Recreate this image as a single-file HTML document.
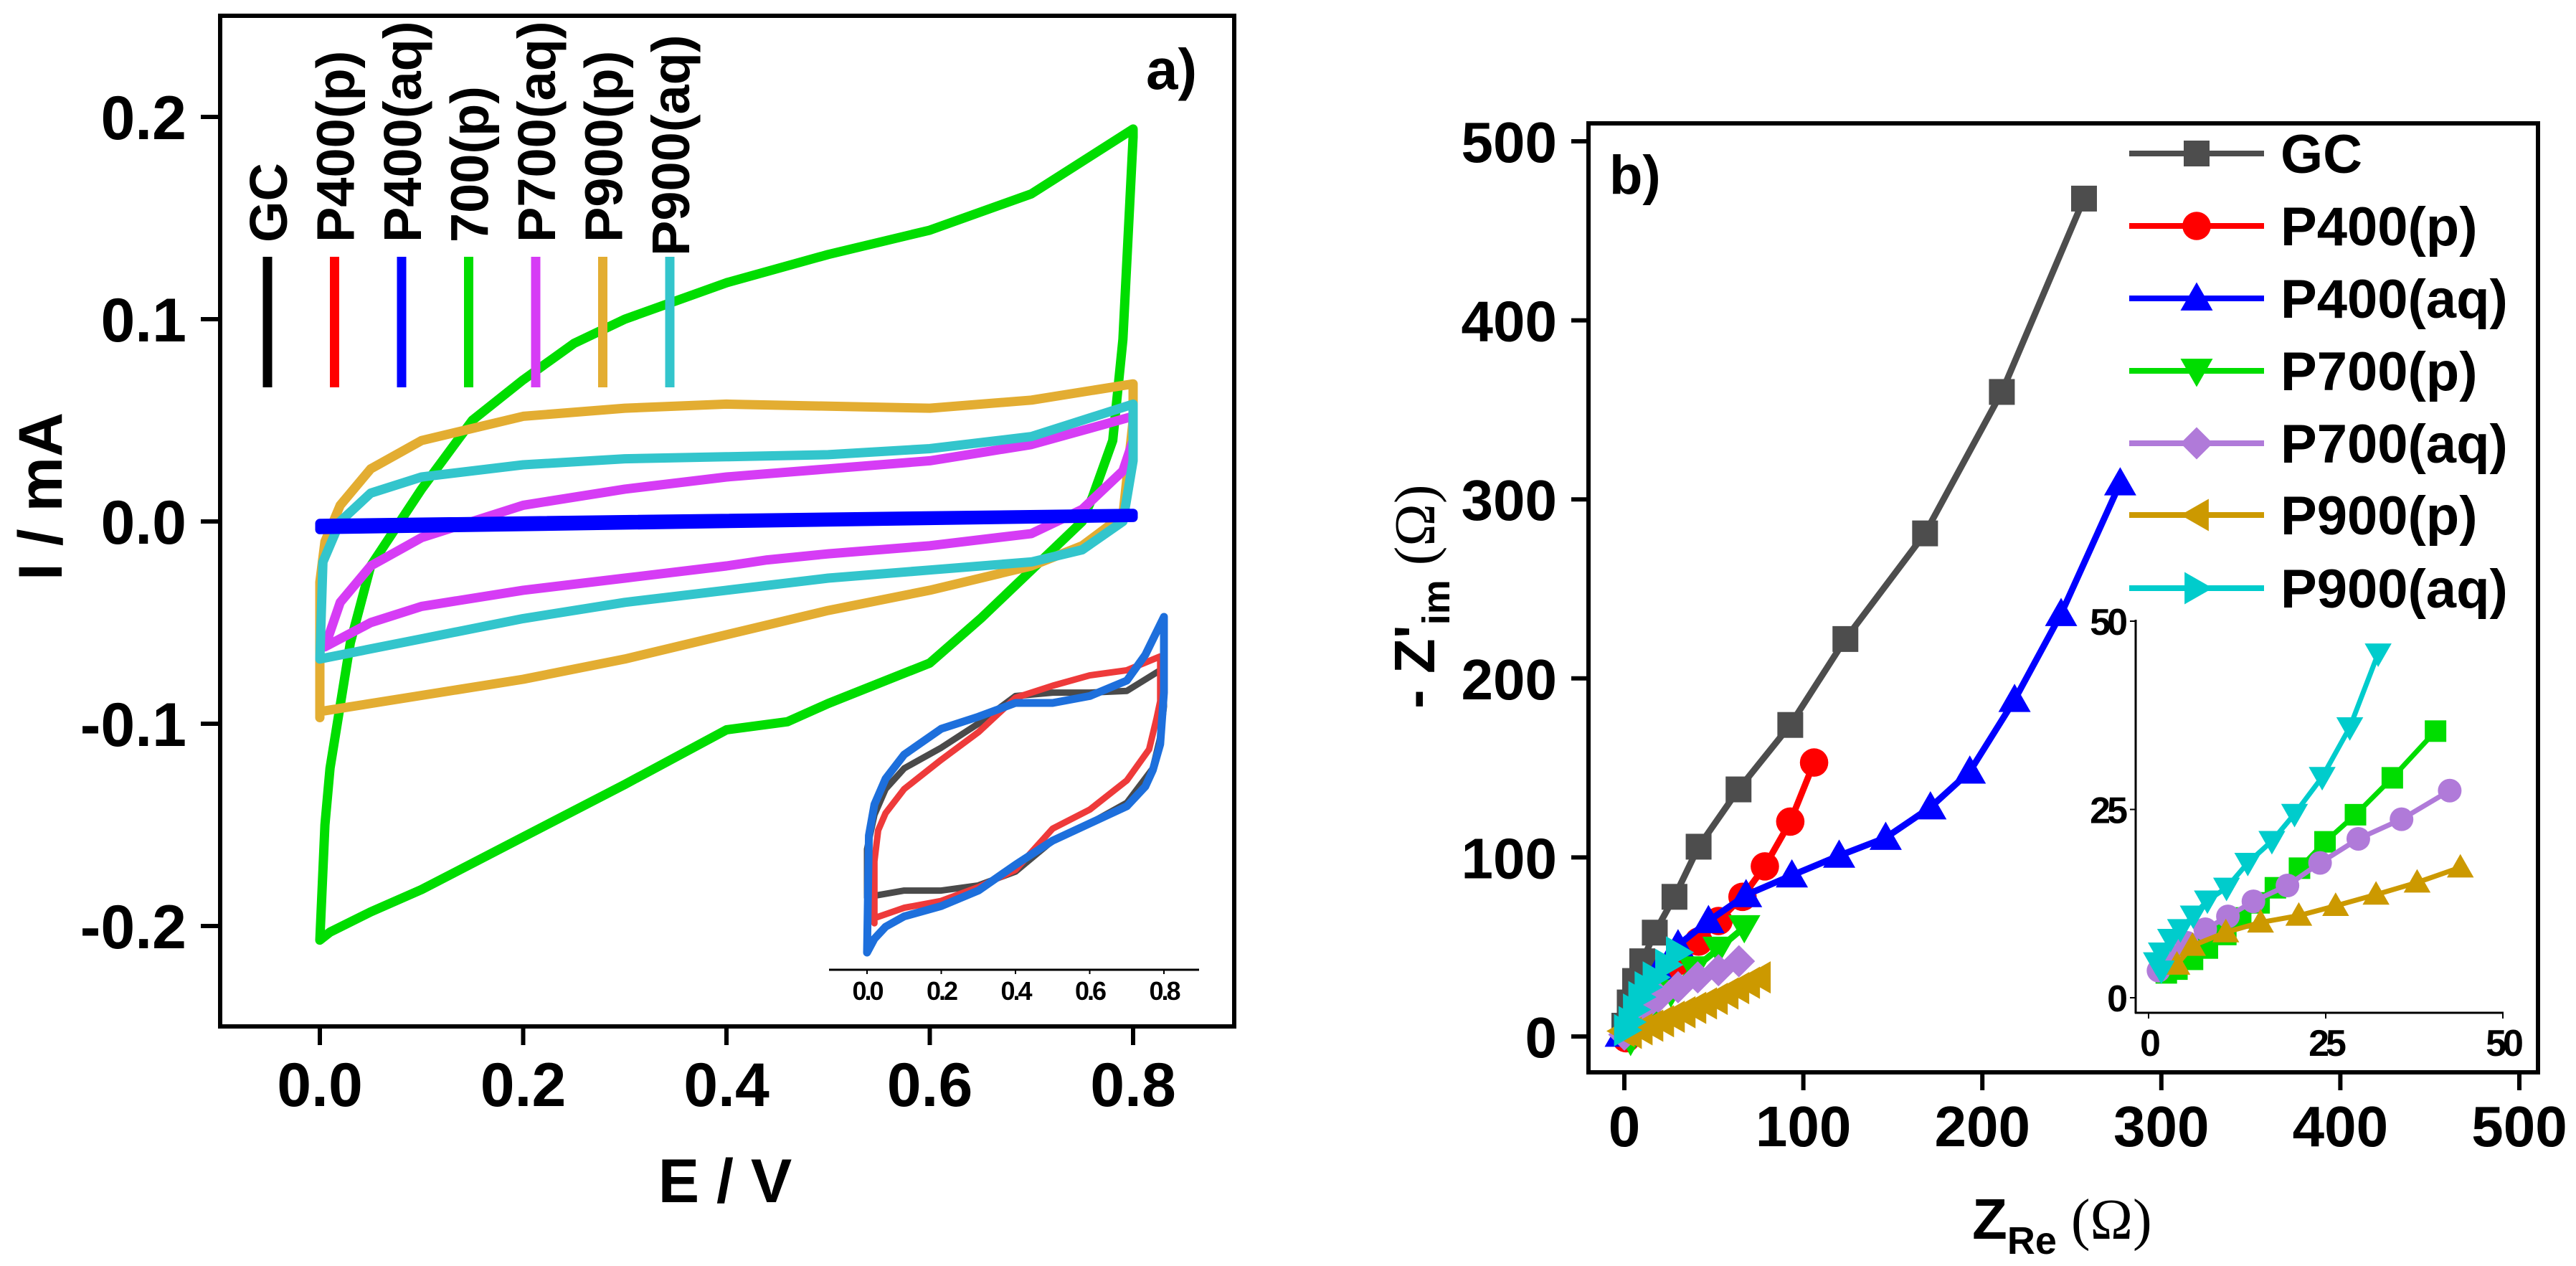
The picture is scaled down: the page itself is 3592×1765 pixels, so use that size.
<!DOCTYPE html>
<html><head><meta charset="utf-8">
<style>
html,body{margin:0;padding:0;background:#fff;}
svg{display:block;}
text{font-family:"Liberation Sans",sans-serif;font-weight:bold;fill:#000;}
</style></head>
<body>
<svg id="fig" width="3592" height="1765" viewBox="0 0 3592 1765" xmlns="http://www.w3.org/2000/svg">
  <g id="panelA"></g>
  <g id="panelB"></g>
</svg>
<script>
// ---------------- Panel a data (E / V, I / mA) ----------------
const aXTicks = [0.0, 0.2, 0.4, 0.6, 0.8];
const aXTickLabels = ["0.0", "0.2", "0.4", "0.6", "0.8"];
const aYTicks = [-0.2, -0.1, 0.0, 0.1, 0.2];
const aYTickLabels = ["-0.2", "-0.1", "0.0", "0.1", "0.2"];
const aLegendNames = ["GC", "P400(p)", "P400(aq)", "700(p)", "P700(aq)", "P900(p)", "P900(aq)"];

const cv700pE = [0,0.005,0.01,0.03,0.05,0.1,0.15,0.2,0.25,0.3,0.4,0.5,0.6,0.7,0.8,0.8,0.795,0.79,0.78,0.76,0.75,0.7,0.65,0.6,0.5,0.46,0.4,0.3,0.2,0.1,0.05,0.01,0];
const cv700pI = [-0.207,-0.15,-0.122,-0.06,-0.022,0.016,0.05,0.07,0.088,0.1,0.118,0.132,0.144,0.162,0.194,0.19,0.14,0.09,0.04,0.012,0.0,-0.024,-0.048,-0.07,-0.09,-0.099,-0.103,-0.13,-0.156,-0.182,-0.193,-0.203,-0.207];
const cv900pE = [0,0,0.005,0.02,0.05,0.1,0.2,0.3,0.4,0.5,0.6,0.7,0.8,0.8,0.79,0.75,0.7,0.6,0.5,0.4,0.3,0.2,0.1,0,0];
const cv900pI = [-0.097,-0.03,-0.01,0.008,0.026,0.04,0.052,0.056,0.058,0.057,0.056,0.06,0.068,0.05,0.003,-0.012,-0.022,-0.034,-0.044,-0.056,-0.068,-0.078,-0.086,-0.094,-0.097];
const cv900aqE = [0,0.003,0.02,0.05,0.1,0.2,0.3,0.4,0.5,0.6,0.7,0.8,0.8,0.79,0.75,0.7,0.6,0.5,0.4,0.3,0.2,0.1,0.02,0];
const cv900aqI = [-0.068,-0.02,0.0,0.014,0.022,0.028,0.031,0.032,0.033,0.036,0.042,0.058,0.03,0.0,-0.014,-0.02,-0.024,-0.028,-0.034,-0.04,-0.048,-0.058,-0.066,-0.068];
const cv700aqE = [0.005,0.02,0.05,0.1,0.2,0.3,0.4,0.5,0.6,0.7,0.8,0.8,0.79,0.75,0.7,0.6,0.5,0.44,0.4,0.3,0.2,0.1,0.05,0.005];
const cv700aqI = [-0.062,-0.04,-0.022,-0.008,0.008,0.016,0.022,0.026,0.03,0.038,0.052,0.04,0.025,0.006,-0.006,-0.012,-0.016,-0.019,-0.022,-0.028,-0.034,-0.042,-0.05,-0.062];
const cv400aqE = [0,0.8,0.8,0];
const cv400aqI = [-0.001,0.004,0.002,-0.004];

// Inset (panel a) - relative current units
const inXTicks = [0.0, 0.2, 0.4, 0.6, 0.8];
const inXTickLabels = ["0.0", "0.2", "0.4", "0.6", "0.8"];
const inGrayE = [0,0,0.02,0.05,0.1,0.2,0.3,0.4,0.5,0.6,0.7,0.79,0.8,0.8,0.79,0.77,0.7,0.6,0.5,0.4,0.3,0.2,0.1,0.02,0];
const inGrayI = [-0.63,-0.35,-0.15,0,0.12,0.24,0.38,0.54,0.56,0.56,0.57,0.69,0.7,0.48,0.3,0.12,-0.08,-0.2,-0.3,-0.48,-0.56,-0.59,-0.59,-0.62,-0.63];
const inRedE = [0.02,0.02,0.03,0.05,0.1,0.2,0.3,0.4,0.5,0.6,0.7,0.79,0.79,0.78,0.76,0.7,0.6,0.5,0.4,0.3,0.2,0.1,0.02];
const inRedI = [-0.78,-0.42,-0.24,-0.14,0,0.17,0.33,0.53,0.6,0.66,0.69,0.77,0.51,0.41,0.23,0.05,-0.12,-0.23,-0.47,-0.57,-0.65,-0.69,-0.75];
const inBlueE = [0,0.005,0.02,0.05,0.1,0.2,0.3,0.4,0.5,0.6,0.7,0.75,0.8,0.8,0.79,0.77,0.75,0.7,0.6,0.5,0.4,0.3,0.2,0.1,0.05,0.02,0];
const inBlueI = [-0.95,-0.27,-0.09,0.06,0.2,0.35,0.42,0.5,0.5,0.54,0.63,0.78,1.0,0.56,0.26,0.11,0.015,-0.1,-0.2,-0.3,-0.44,-0.59,-0.68,-0.74,-0.8,-0.87,-0.95];

// ---------------- Panel b data (Z_Re, -Z_im in ohm) ----------------
const bXTicks = [0, 100, 200, 300, 400, 500];
const bYTicks = [0, 100, 200, 300, 400, 500];
const bTickLabels = ["0", "100", "200", "300", "400", "500"];
const bNames = ["GC", "P400(p)", "P400(aq)", "P700(p)", "P700(aq)", "P900(p)", "P900(aq)"];

const gcX = [0,3,6,10,17,28,41.5,63.8,92.7,123.5,168,210.9,256.8];
const gcY = [6,19,31,42,58,78,106,138,174,222,281,360,468];
const p400pX = [1,6,12.5,21,30,41.5,52.6,66,78.5,92.7,106];
const p400pY = [-1,8,19,31,42,53,64.5,78,95,120,153];
const p400aqX = [-2,3.5,10,19,30,47,68,93.6,120,146,171,193,218,244,277];
const p400aqY = [1,10,24,37,51,64.5,79,90,101,111,128,148,188,236,309];
const p700pX = [3.5,8,15,26,39,52.6,67];
const p700pY = [-2,6,14,25,38,49,61];
const p700aqX = [0,3.5,10,19,30,41,52.6,64];
const p700aqY = [1,8,15,22,27.5,33,37,42];
const p900pX = [-1,3,9,15,21,27,33,39,45,51,57,63,69,75];
const p900pY = [3,2,4,6,8.5,11,13.5,16,18.5,21,24,27,30,33];
const p900aqX = [1,3.5,6,9,12.5,17,24,30];
const p900aqY = [3.5,8,15,22,27.5,33,40,47];

// Panel b inset
const ibTicks = [0, 25, 50];
const ibTickLabels = ["0", "25", "50"];
const ib700pX = [2.5,4,6.2,8.3,10.9,13,15.6,17.9,21.3,24.9,29.2,34.4,40.5];
const ib700pY = [3.3,3.8,5.1,6.6,8.4,10.6,12.6,14.6,17.2,20.7,24.3,29.2,35.4];
const ib700aqX = [1.4,3.3,5.4,8,11.2,14.8,19.6,24.2,29.6,35.7,42.5];
const ib700aqY = [3.6,5.5,7.3,9.1,10.8,12.8,14.9,17.9,21.1,23.7,27.5];
const ib900pX = [4,6.2,10.9,15.8,21.2,26.4,32.1,37.9,44];
const ib900pY = [4.4,6.9,8.7,10,10.9,12.2,13.7,15.3,17.3];
const ib900aqX = [1.8,1.1,1.8,3.1,4.5,6.3,8.3,11,14,17.4,20.6,24.5,28.4,32.4];
const ib900aqY = [3.6,4.7,6,7.8,9.1,10.9,12.9,14.6,17.9,20.8,24.4,29.3,35.9,45.7];

// ---------------- helpers ----------------
const NS = "http://www.w3.org/2000/svg";
function mk(parent, tag, attrs){
  const el = document.createElementNS(NS, tag);
  for (const k in attrs) el.setAttribute(k, attrs[k]);
  parent.appendChild(el);
  return el;
}
function linear(d0,d1,r0,r1){ return v => r0 + (v-d0)*(r1-r0)/(d1-d0); }
function pathFrom(xs, ys, sx, sy, close){
  let d = "";
  for (let i=0;i<xs.length;i++) d += (i?"L":"M") + sx(xs[i]).toFixed(1) + " " + sy(ys[i]).toFixed(1);
  return d + (close?"Z":"");
}
function marker(g, shape, cx, cy, s, color){
  let el;
  if (shape==="square") el = mk(g,"rect",{x:cx-s,y:cy-s,width:2*s,height:2*s,fill:color});
  else if (shape==="circle") el = mk(g,"circle",{cx:cx,cy:cy,r:s*1.1,fill:color});
  else {
    let pts;
    const h = s*1.25;
    if (shape==="up") pts=[[cx,cy-h],[cx+h,cy+h*0.75],[cx-h,cy+h*0.75]];
    else if (shape==="down") pts=[[cx,cy+h],[cx+h,cy-h*0.75],[cx-h,cy-h*0.75]];
    else if (shape==="left") pts=[[cx-h,cy],[cx+h*0.75,cy-h],[cx+h*0.75,cy+h]];
    else if (shape==="right") pts=[[cx+h,cy],[cx-h*0.75,cy-h],[cx-h*0.75,cy+h]];
    else if (shape==="diamond") pts=[[cx,cy-h],[cx+h,cy],[cx,cy+h],[cx-h,cy]];
    el = mk(g,"polygon",{points:pts.map(p=>p.join(",")).join(" "),fill:color});
  }
  return el;
}

// ================= PANEL A =================
const A = document.getElementById("panelA");
const ax = linear(0,0.8,446,1580);
const ay = linear(0,0.2,727,163);

const frameA = mk(A,"rect",{x:307,y:22,width:1414,height:1409,fill:"none",stroke:"#000","stroke-width":6});



aXTicks.forEach((v,i)=>{
  const t = mk(A,"line",{x1:ax(v),x2:ax(v),y1:1434,y2:1457,stroke:"#000","stroke-width":6});
  
  
  const l = mk(A,"text",{x:ax(v),y:1542,"font-size":86,"text-anchor":"middle"});
  l.textContent = aXTickLabels[i];
  
  
});
aYTicks.forEach((v,i)=>{
  const t = mk(A,"line",{x1:280,x2:307,y1:ay(v),y2:ay(v),stroke:"#000","stroke-width":6});
  
  
  const l = mk(A,"text",{x:260,y:ay(v)+31,"font-size":86,"text-anchor":"end"});
  l.textContent = aYTickLabels[i];
  
  
});
const aXT = mk(A,"text",{x:1011,y:1676,"font-size":86,"text-anchor":"middle"});
aXT.textContent = "E / V";


const aYT = mk(A,"text",{x:0,y:0,"font-size":86,"text-anchor":"middle",transform:"translate(86,692) rotate(-90)"});
aYT.textContent = "I / mA";


const aLab = mk(A,"text",{x:1598,y:124,"font-size":80});
aLab.textContent = "a)";



// CV series
const cvSeries = [
  {E:cv700pE, I:cv700pI, c:"#00dd00", n:"cv-700p"},
  {E:cv900pE, I:cv900pI, c:"#e3ad32", n:"cv-p900p"},
  {E:cv700aqE, I:cv700aqI, c:"#d63cf5", n:"cv-p700aq"},
  {E:cv900aqE, I:cv900aqI, c:"#33c5cc", n:"cv-p900aq"},
];
cvSeries.forEach(s=>{
  const p = mk(A,"path",{d:pathFrom(s.E,s.I,ax,ay,true),fill:"none",stroke:s.c,"stroke-width":13,"stroke-linejoin":"round","stroke-linecap":"round"});
  
  
});
const blueCv = mk(A,"path",{d:pathFrom(cv400aqE,cv400aqI,ax,ay,true),fill:"#0000ff",stroke:"#0000ff","stroke-width":13,"stroke-linejoin":"round"});



// legend a
const legColorsA = ["#000000","#ff0000","#0000ff","#00dd00","#d63cf5","#e3ad32","#33c5cc"];
const legStep = 93.5;
aLegendNames.forEach((nm,i)=>{
  const bx = 373 + i*legStep;
  const bar = mk(A,"rect",{x:bx-6.5,y:358,width:13,height:182,fill:legColorsA[i]});
  
  
  const endY = (i===6)?357:338;
  const t = mk(A,"text",{x:0,y:0,"font-size":74,transform:`translate(${bx+27},${endY}) rotate(-90)`});
  t.textContent = nm;
  
  
});

// inset a
const iax = linear(0,0.8,1209,1623);
const iay = linear(0,1,1100,860);
const insetAxis = mk(A,"line",{x1:1156,x2:1672,y1:1352,y2:1352,stroke:"#000","stroke-width":3});


inXTicks.forEach((v,i)=>{
  const t = mk(A,"line",{x1:iax(v),x2:iax(v),y1:1352,y2:1358,stroke:"#000","stroke-width":2});
  
  
  const l = mk(A,"text",{x:iax(v),y:1394,"font-size":36,"text-anchor":"middle","letter-spacing":"-3"});
  l.textContent = inXTickLabels[i];
  
  
});
[[inGrayE,inGrayI,"#4a4a4a",9,"inset-gc"],[inRedE,inRedI,"#ee3a3a",9,"inset-red"],[inBlueE,inBlueI,"#1d6fdc",11,"inset-blue"]].forEach(s=>{
  const p = mk(A,"path",{d:pathFrom(s[0],s[1],iax,iay,true),fill:"none",stroke:s[2],"stroke-width":s[3],"stroke-linejoin":"round"});
  
  
});

// ================= PANEL B =================
const B = document.getElementById("panelB");
const bx = linear(0,100,2265,2514.6);
const by = linear(0,100,1445,1195.4);

const frameB = mk(B,"rect",{x:2215,y:172,width:1324,height:1323,fill:"none",stroke:"#000","stroke-width":6});


bXTicks.forEach((v,i)=>{
  const t = mk(B,"line",{x1:bx(v),x2:bx(v),y1:1498,y2:1520,stroke:"#000","stroke-width":6});
  
  
  const l = mk(B,"text",{x:bx(v),y:1598,"font-size":80,"text-anchor":"middle"});
  l.textContent = bTickLabels[i];
  
  
});
bYTicks.forEach((v,i)=>{
  const t = mk(B,"line",{x1:2191,x2:2215,y1:by(v),y2:by(v),stroke:"#000","stroke-width":6});
  
  
  const l = mk(B,"text",{x:2171,y:by(v)+29,"font-size":80,"text-anchor":"end"});
  l.textContent = bTickLabels[i];
  
  
});
const bXT = mk(B,"text",{x:2750,y:1727,"font-size":80});
bXT.innerHTML = 'Z<tspan font-size="54" dy="21">Re</tspan><tspan dy="-21" font-family="Liberation Serif" font-weight="normal"> (Ω)</tspan>';


const bYT = mk(B,"text",{x:0,y:0,"font-size":80,transform:"translate(2000,988) rotate(-90)"});
bYT.innerHTML = "- Z'<tspan font-size='54' dy='21'>im</tspan><tspan dy='-21' font-family='Liberation Serif' font-weight='normal'> (Ω)</tspan>";


const bLab = mk(B,"text",{x:2244,y:270,"font-size":76});
bLab.textContent = "b)";



const bSeries = [
  {x:gcX,y:gcY,c:"#4d4d4d",m:"square",n:"series-gc"},
  {x:p400pX,y:p400pY,c:"#ff0000",m:"circle",n:"series-p400p"},
  {x:p400aqX,y:p400aqY,c:"#0000ff",m:"up",n:"series-p400aq"},
  {x:p700pX,y:p700pY,c:"#00dd00",m:"down",n:"series-p700p"},
  {x:p700aqX,y:p700aqY,c:"#b07ad9",m:"diamond",n:"series-p700aq"},
  {x:p900pX,y:p900pY,c:"#cc9900",m:"left",n:"series-p900p"},
  {x:p900aqX,y:p900aqY,c:"#00cccc",m:"right",n:"series-p900aq"},
];
bSeries.forEach(s=>{
  const g = mk(B,"g",{});
  
  
  const p = mk(g,"path",{d:pathFrom(s.x,s.y,bx,by,false),fill:"none",stroke:s.c,"stroke-width":9,"stroke-linejoin":"round"});
  
  
  for (let i=0;i<s.x.length;i++){
    const m = marker(g,s.m,bx(s.x[i]),by(s.y[i]),18,s.c);
    
    
  }
});

// legend b
const legRowY = [214,315,416,517,618,718,820];
bSeries.forEach((s,i)=>{
  const g = mk(B,"g",{});
  
  
  const ln = mk(g,"line",{x1:2969,x2:3157,y1:legRowY[i],y2:legRowY[i],stroke:s.c,"stroke-width":8});
  
  
  const m = marker(g,s.m,3063,legRowY[i],18,s.c);
  
  
  const t = mk(g,"text",{x:3180,y:legRowY[i]+27,"font-size":76});
  t.textContent = bNames[i];
  
  
});

// inset b
const ibx = linear(0,50,2996,3490);
const iby = linear(0,50,1391,866);
const ibYA = mk(B,"line",{x1:2978,x2:2978,y1:864,y2:1413,stroke:"#000","stroke-width":3});


const ibXA = mk(B,"line",{x1:2977,x2:3491,y1:1412,y2:1412,stroke:"#000","stroke-width":3});


ibTicks.forEach((v,i)=>{
  const tx = mk(B,"line",{x1:ibx(v),x2:ibx(v),y1:1412,y2:1420,stroke:"#000","stroke-width":2});
  
  
  const lx = mk(B,"text",{x:ibx(v),y:1472,"font-size":52,"text-anchor":"middle","letter-spacing":"-5"});
  lx.textContent = ibTickLabels[i];
  
  
  const ty = mk(B,"line",{x1:2970,x2:2978,y1:iby(v),y2:iby(v),stroke:"#000","stroke-width":2});
  
  
  const ly = mk(B,"text",{x:2962,y:iby(v)+19,"font-size":52,"text-anchor":"end","letter-spacing":"-5"});
  ly.textContent = ibTickLabels[i];
  
  
});
const ibSeries = [
  {x:ib700pX,y:ib700pY,c:"#00dd00",m:"square",n:"inset-p700p"},
  {x:ib700aqX,y:ib700aqY,c:"#b07ad9",m:"circle",n:"inset-p700aq"},
  {x:ib900pX,y:ib900pY,c:"#cc9900",m:"up",n:"inset-p900p"},
  {x:ib900aqX,y:ib900aqY,c:"#00cccc",m:"down",n:"inset-p900aq"},
];
ibSeries.forEach(s=>{
  const g = mk(B,"g",{});
  
  
  const p = mk(g,"path",{d:pathFrom(s.x,s.y,ibx,iby,false),fill:"none",stroke:s.c,"stroke-width":7,"stroke-linejoin":"round"});
  
  
  for (let i=0;i<s.x.length;i++){
    const m = marker(g,s.m,ibx(s.x[i]),iby(s.y[i]),15,s.c);
    
    
  }
});
</script>
</body></html>
